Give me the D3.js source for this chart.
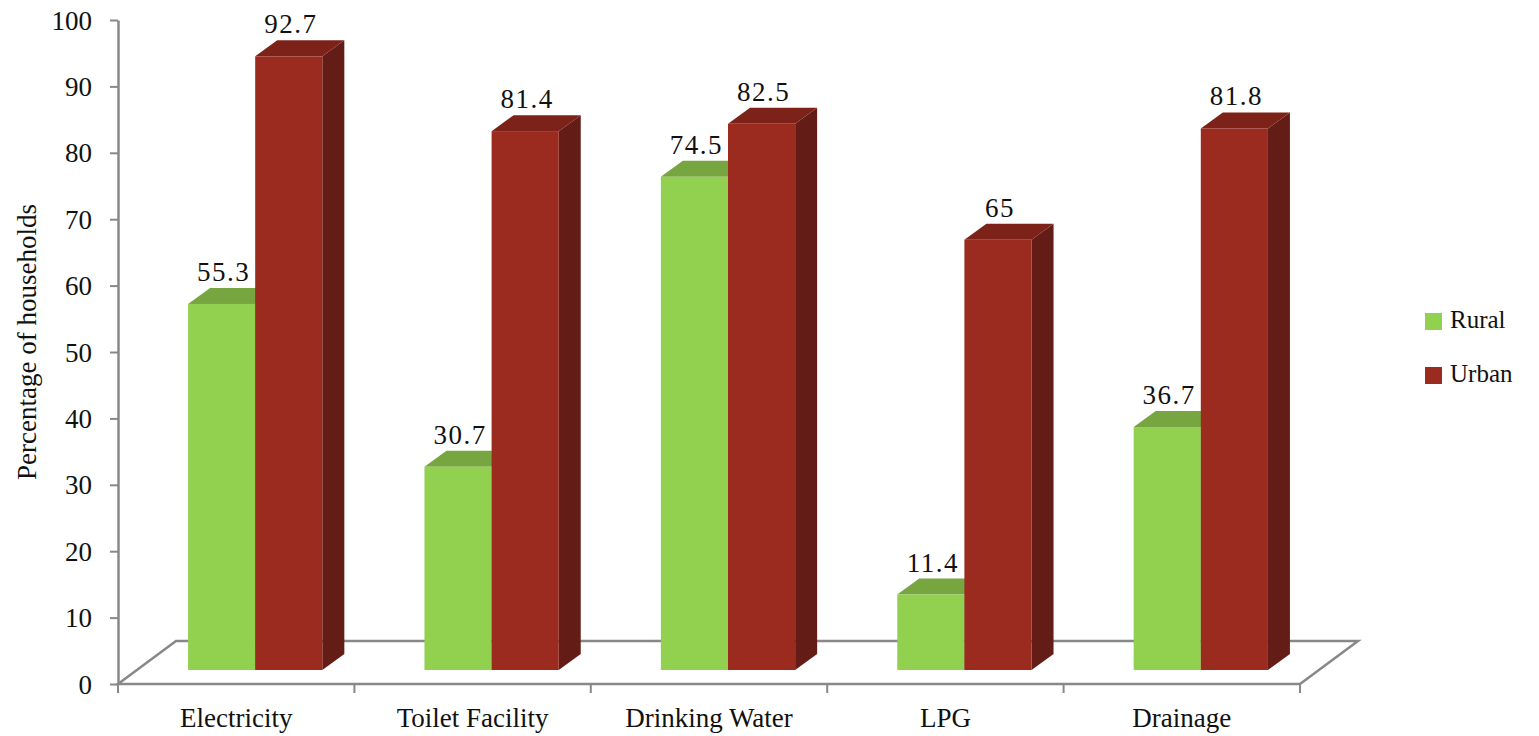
<!DOCTYPE html>
<html>
<head>
<meta charset="utf-8">
<script src="https://cdn.jsdelivr.net/npm/d3@7/dist/d3.min.js"></script>
<style>
  html, body { margin: 0; padding: 0; background: #fff; }
  svg { display: block; }
  text { font-family: "Liberation Serif", "DejaVu Serif", serif; fill: #111; }
</style>
</head>
<body>
<svg id="chart" width="1539" height="736"></svg>
<script>
// Household amenities, rural vs urban (percent)
const categories = ["Electricity", "Toilet Facility", "Drinking Water", "LPG", "Drainage"];
const seriesNames = ["Rural", "Urban"];
const ruralValues = [55.3, 30.7, 74.5, 11.4, 36.7];
const urbanValues = [92.7, 81.4, 82.5, 65, 81.8];
const yTicks = [0, 10, 20, 30, 40, 50, 60, 70, 80, 90, 100];

const palette = {
  Rural: { front: "#92d050", top: "#77a540", side: "#6c9a38" },
  Urban: { front: "#9b2a1f", top: "#7c2219", side: "#641d16" }
};

const svg = d3.select("#chart");

// Front edge of the floor and the value axis
const x = d3.scaleBand().domain(categories).range([118, 1300]).paddingInner(0).paddingOuter(0);
const y = d3.scaleLinear().domain([0, 100]).range([684, 20]);
// Bars stand a little way back on the floor, so their base is higher
const yBar = d3.scaleLinear().domain([0, 100]).range([670, 8]);

// Floor depth and bar placement within it
const floorDepth = { dx: 58, dy: -43 };
const barFront = 19;           // horizontal shift of the bar fronts
const barDepth = { dx: 22, dy: -16 };
const barWidth = x.bandwidth() * 0.284;

const gray = "#888888";
const serif = '"Liberation Serif", "DejaVu Serif", serif';

// Floor parallelogram
const fx0 = x.range()[0], fx1 = x.range()[1], fy = y(0);
svg.append("path")
  .attr("d", `M${fx0},${fy} L${fx0 + floorDepth.dx},${fy + floorDepth.dy} L${fx1 + floorDepth.dx},${fy + floorDepth.dy} L${fx1},${fy} Z`)
  .attr("fill", "none")
  .attr("stroke", gray)
  .attr("stroke-width", 2.5)
  .attr("stroke-linejoin", "miter");

// Value axis
const yAxis = svg.append("g").attr("transform", `translate(${fx0},0)`)
  .call(d3.axisLeft(y).tickValues(yTicks).tickSize(8).tickPadding(18).tickSizeOuter(0));
yAxis.attr("font-family", serif);
yAxis.select(".domain").attr("stroke", gray).attr("stroke-width", 2.5);
yAxis.selectAll(".tick line").attr("stroke", gray).attr("stroke-width", 2);
yAxis.selectAll(".tick text")
  .style("font-family", serif)
  .style("font-size", "27px")
  .attr("fill", "#111")
  .attr("dy", "0.34em");

// Category axis along the front edge of the floor
const xAxis = svg.append("g").attr("transform", `translate(0,${fy})`)
  .call(d3.axisBottom(x).tickSize(0).tickPadding(24));
xAxis.attr("font-family", serif);
xAxis.select(".domain").remove();
xAxis.selectAll(".tick text")
  .style("font-family", serif)
  .style("font-size", "27px")
  .attr("fill", "#111");

// Boundary ticks between categories
const boundaries = categories.map(c => x(c)).concat([fx1]);
svg.append("g").selectAll("line").data(boundaries).join("line")
  .attr("x1", d => d).attr("x2", d => d)
  .attr("y1", fy).attr("y2", fy + 9)
  .attr("stroke", gray).attr("stroke-width", 2);

// Bars: build one record per category and series
const bars = [];
categories.forEach((c, i) => {
  const cx = x(c) + x.bandwidth() / 2 + barFront;
  bars.push({ cat: c, series: "Rural", value: ruralValues[i], x0: cx - barWidth });
  bars.push({ cat: c, series: "Urban", value: urbanValues[i], x0: cx });
});

const barG = svg.append("g");
// Draw urban (right) after rural so its front covers the rural side face
["Rural", "Urban"].forEach(s => {
  bars.filter(b => b.series === s).forEach(b => {
    const g = barG.append("g");
    const xl = b.x0, xr = b.x0 + barWidth;
    const yt = yBar(b.value), yb = yBar(0);
    const c = palette[b.series];
    // side face
    g.append("path")
      .attr("d", `M${xr},${yb} L${xr + barDepth.dx},${yb + barDepth.dy} L${xr + barDepth.dx},${yt + barDepth.dy} L${xr},${yt} Z`)
      .attr("fill", c.side);
    // top face
    g.append("path")
      .attr("d", `M${xl},${yt} L${xl + barDepth.dx},${yt + barDepth.dy} L${xr + barDepth.dx},${yt + barDepth.dy} L${xr},${yt} Z`)
      .attr("fill", c.top);
    // front face
    g.append("rect")
      .attr("x", xl).attr("y", yt)
      .attr("width", barWidth).attr("height", yb - yt)
      .attr("fill", c.front);
  });
});

// Value labels above each bar
svg.append("g").selectAll("text").data(bars).join("text")
  .attr("x", d => d.x0 + barWidth / 2 + 2)
  .attr("y", d => yBar(d.value) - 23)
  .attr("text-anchor", "middle")
  .style("font-family", serif)
  .style("font-size", "27px")
  .style("letter-spacing", "1.5px")
  .text(d => d.value);

// Axis title
svg.append("text")
  .attr("transform", `translate(36,${342}) rotate(-90)`)
  .attr("text-anchor", "middle")
  .style("font-family", serif)
  .style("font-size", "27px")
  .text("Percentage of households");

// Legend
const legend = svg.append("g").attr("transform", "translate(1425,313)");
seriesNames.forEach((s, i) => {
  const row = legend.append("g").attr("transform", `translate(0,${i * 54})`);
  row.append("rect").attr("width", 17).attr("height", 17).attr("fill", palette[s].front);
  row.append("text").attr("x", 25).attr("y", 15)
    .style("font-family", serif)
    .style("font-size", "25px")
    .text(s);
});
</script>
</body>
</html>
